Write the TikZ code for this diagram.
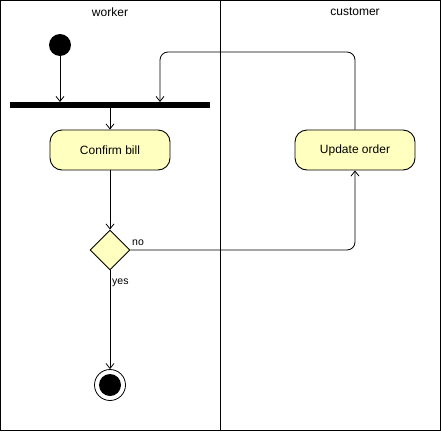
\documentclass[tikz,border=0pt]{standalone}
\usepackage{fontspec}
\setmainfont{Liberation Sans}
\usetikzlibrary{arrows.meta,shapes.geometric}
\definecolor{actfill}{HTML}{FFFFC0}
\begin{document}
\begin{tikzpicture}[x=1pt,y=-1pt,
  every node/.style={font=\fontsize{12}{14}\selectfont},
  act/.style={draw,line width=0.9pt,fill=actfill,rounded corners=12pt,minimum width=120pt,minimum height=40pt,inner sep=0pt},
  dec/.style={draw,line width=0.9pt,fill=actfill,diamond,minimum width=40pt,minimum height=40pt,inner sep=0pt},
  flow/.style={draw,line width=0.8pt,-{Straight Barb[length=5pt,width=8pt]}},
  lbl/.style={font=\fontsize{10.5}{12}\selectfont,inner sep=1pt},
  lane/.style={draw,line width=0.8pt}]
\useasboundingbox (0,0) rectangle (441,431);
\draw[lane] (0.5,0.5) rectangle (440.5,430.5);
\draw[lane] (220.5,0.5) -- (220.5,430.5);
\node (hw) at (110,12) {worker};
\node (hc) at (355,12) {customer};
\node[circle,fill=black,minimum size=22pt,inner sep=0pt] (start) at (60,45) {};
\node[fill=black,minimum width=200pt,minimum height=6pt,inner sep=0pt] (bar) at (110,105) {};
\node[act] (confirm) at (110,150) {Confirm bill};
\node[dec] (d) at (110,250) {};
\node[act] (update) at (355,150) {Update order};
\node[circle,draw,line width=0.8pt,minimum size=31pt,inner sep=0pt] (end) at (110,385) {};
\node[circle,fill=black,minimum size=22pt,inner sep=0pt] (endin) at (110,385) {};
\coordinate (b1) at (60,102);
\coordinate (b2) at (160,102);
\coordinate (b3) at (110,108);
\draw[flow] (start) -- (b1);
\draw[flow] (b3) -- (confirm.north);
\draw[flow] (confirm) -- (d.north);
\draw[flow] (d.south) -- (end.north);
\draw[flow,rounded corners=8pt] (d.east) -- (355,250) -- (update.south);
\draw[flow,rounded corners=8pt] (update.north) -- (355,52) -- (160,52) -- (b2);
\node[lbl,anchor=south west] (no) at (131,247) {no};
\node[lbl,anchor=north west] (yes) at (111,277.5) {yes};
\end{tikzpicture}
\end{document}
